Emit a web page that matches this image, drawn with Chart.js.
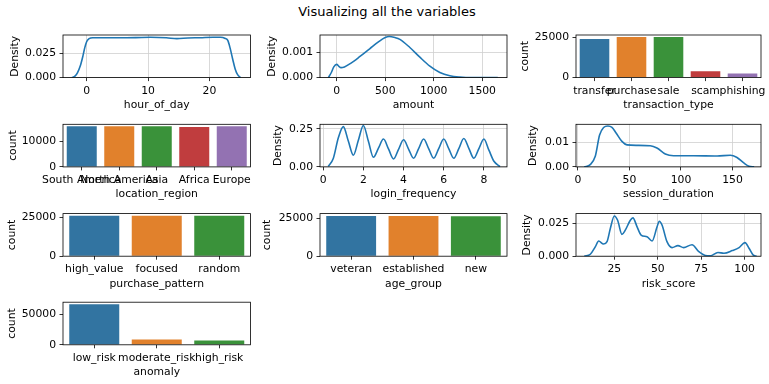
<!DOCTYPE html>
<html>
<head>
<meta charset="utf-8">
<script src="https://cdn.jsdelivr.net/npm/chart.js@4.4.0/dist/chart.umd.min.js"></script>
<style>
  html, body { margin: 0; padding: 0; background: #fff; }
  #fig { position: relative; width: 769px; height: 384px; overflow: hidden; font-family: 'DejaVu Sans', sans-serif; }
  #title { position: absolute; left: 0; top: 4px; width: 774px; text-align: center; font-size: 13px; line-height: 16px; color: #000; }
  #fig canvas { position: absolute; }
</style>
</head>
<body>
<div id="fig">
  <div id="title">Visualizing all the variables</div>
</div>
<script>
// ---- data ----

// hour_of_day density
const hourX = [-2.4, -1.9, -1.5, -1.0, -0.6, -0.3, 0, 0.4, 1, 3, 6, 8, 10.4, 13, 14.7, 16.5, 18.5, 20.6, 21.8, 22.5, 23.0, 23.4, 23.8, 24.2, 24.6, 25.1];
const hourY = [0, 0.0015, 0.005, 0.0128, 0.0225, 0.031, 0.0371, 0.0403, 0.0413, 0.0412, 0.0413, 0.0414, 0.0417, 0.0412, 0.0403, 0.041, 0.0413, 0.0418, 0.0417, 0.0408, 0.0385, 0.03, 0.019, 0.009, 0.003, 0];
const hourXTicks = [0, 10, 20];
const hourYTicks = ['0.000', '0.025'];

// amount density
const amountX = [-86, -55, -30, 0, 20, 45, 80, 140, 240, 340, 430, 500, 540, 600, 651, 754, 857, 960, 1063, 1166, 1268, 1400, 1660];
const amountY = [0, 0.0002, 0.00042, 0.00052, 0.00045, 0.00039, 0.00042, 0.00055, 0.00083, 0.00113, 0.0014, 0.00157, 0.00161, 0.00157, 0.0015, 0.00118, 0.0008, 0.00045, 0.0002, 0.00007, 0.00002, 0, 0];
const amountXTicks = [0, 500, 1000, 1500];
const amountYTicks = ['0.000', '0.001'];

// transaction_type counts
const transCats = ['transfer', 'purchase', 'sale', 'scam', 'phishing'];
const transCounts = [23900, 25200, 25150, 4000, 2600];
const transYTicks = ['0', '25000'];

// location_region counts
const regionCats = ['South America', 'North America', 'Asia', 'Africa', 'Europe'];
const regionCounts = [15750, 15800, 15750, 15450, 15800];
const regionYTicks = ['0', '10000'];

// login_frequency density
const loginX = [0.25, 0.5, 0.75, 1, 1.25, 1.5, 1.75, 2, 2.25, 2.5, 2.75, 3, 3.25, 3.5, 3.75, 4, 4.25, 4.5, 4.75, 5, 5.25, 5.5, 5.75, 6, 6.25, 6.5, 6.75, 7, 7.25, 7.5, 7.75, 8, 8.25, 8.5, 8.8];
const loginY = [0.003, 0.055, 0.19, 0.265, 0.17, 0.077, 0.175, 0.272, 0.168, 0.063, 0.123, 0.183, 0.118, 0.052, 0.115, 0.178, 0.117, 0.057, 0.12, 0.183, 0.12, 0.057, 0.12, 0.183, 0.12, 0.057, 0.12, 0.187, 0.122, 0.057, 0.12, 0.183, 0.11, 0.037, 0.002];
const loginXTicks = [0, 2, 4, 6, 8];
const loginYTicks = ['0.00', '0.25'];

// session_duration density
const sessionX = [6.1, 11.9, 16.8, 21, 24.9, 29.1, 33, 37.2, 42.7, 47.6, 57.3, 70.2, 76.7, 84.8, 92.8, 112, 135, 148, 154, 161, 166, 171];
const sessionY = [0, 0.0009, 0.0043, 0.0129, 0.0159, 0.01653, 0.016, 0.0136, 0.0103, 0.0089, 0.0087, 0.00853, 0.0076, 0.0052, 0.00453, 0.00453, 0.0044, 0.0047, 0.0039, 0.0016, 0.0003, 0];
const sessionXTicks = [0, 50, 100, 150];
const sessionYTicks = ['0.00', '0.01'];

// purchase_pattern counts
const patternCats = ['high_value', 'focused', 'random'];
const patternCounts = [26250, 26300, 26200];

// age_group counts
const ageCats = ['veteran', 'established', 'new'];
const ageCounts = [26300, 26250, 26200];

// risk_score density
const riskX = [7.7, 11.2, 14.1, 16.0, 18.8, 20.8, 22.7, 25.0, 26.9, 29.4, 31.3, 34.2, 35.7, 38.1, 40.4, 43.8, 46.7, 49.6, 50.9, 52.5, 55.3, 58.2, 61.6, 64.9, 69.7, 73.6, 77.4, 80.3, 84.6, 88.1, 92.9, 96.8, 100.2, 102.5, 104.8, 106.9];
const riskY = [0, 0.0015, 0.0073, 0.0116, 0.0093, 0.0111, 0.0212, 0.0308, 0.0275, 0.0167, 0.0199, 0.0275, 0.0293, 0.0225, 0.0162, 0.0149, 0.0116, 0.0225, 0.0268, 0.0237, 0.0111, 0.0066, 0.0081, 0.0066, 0.0088, 0.0035, 0.0005, 0.0003, 0.0028, 0.0023, 0.0043, 0.0066, 0.0104, 0.0061, 0.001, 0];
const riskXTicks = [25, 50, 75, 100];
const riskYTicks = ['0.000', '0.025'];

// anomaly counts
const anomalyCats = ['low_risk', 'moderate_risk', 'high_risk'];
const anomalyCounts = [66300, 8700, 7100];
const anomalyYTicks = ['0', '50000'];

const countYTicks25k = ['0', '25000'];

// ---- look ----
Chart.defaults.font.family = "'DejaVu Sans', sans-serif";
Chart.defaults.font.size = 10.8;
Chart.defaults.color = '#000';
Chart.defaults.animation = false;

const LINE = '#1f77b4';
const PALETTE = ['#3274a1', '#e1812c', '#3a923a', '#c03d3e', '#9372b2'];

// subplot grid (axes boxes, in page pixels)
const colLeft = [63, 320, 576];
const colWidth = [187.5, 187, 185];
const rowTop = [35, 124.3, 213.6, 302.2];
const AX_H = 42.6;
const YW = 60, PT = 12, PR = 14, XH = 35;

// draws the four spines like matplotlib
const framePlugin = {
  id: 'frame',
  afterDraw(chart) {
    const { ctx, chartArea: a } = chart;
    ctx.save();
    ctx.strokeStyle = '#000';
    ctx.lineWidth = 0.8;
    ctx.strokeRect(a.left, a.top, a.right - a.left, a.bottom - a.top);
    ctx.restore();
  }
};

const panels = [
  { kind: 'kde', row: 0, col: 0, xlabel: 'hour_of_day', ylabel: 'Density', xs: hourX, ys: hourY,
    xMin: -3.85, xMax: 26.7, xTicks: hourXTicks, yMax: 0.0441, yTicks: hourYTicks, yd: 48 },
  { kind: 'kde', row: 0, col: 1, xlabel: 'amount', ylabel: 'Density', xs: amountX, ys: amountY,
    xMin: -172, xMax: 1755, xTicks: amountXTicks, yMax: 0.00167, yTicks: amountYTicks, yd: 48.3 },
  { kind: 'bar', row: 0, col: 2, xlabel: 'transaction_type', cats: transCats, counts: transCounts,
    yMax: 26460, yTicks: transYTicks, yd: 51 },
  { kind: 'bar', row: 1, col: 0, xlabel: 'location_region', cats: regionCats, counts: regionCounts,
    yMax: 16540, yTicks: regionYTicks, yd: 50.3 },
  { kind: 'kde', row: 1, col: 1, xlabel: 'login_frequency', ylabel: 'Density', xs: loginX, ys: loginY,
    xMin: -0.16, xMax: 9.15, xTicks: loginXTicks, yMax: 0.28, yTicks: loginYTicks, yd: 41.7 },
  { kind: 'kde', row: 1, col: 2, xlabel: 'session_duration', ylabel: 'Density', xs: sessionX, ys: sessionY,
    xMin: -1.9, xMax: 177.7, xTicks: sessionXTicks, yMax: 0.0172, yTicks: sessionYTicks, yd: 42.7 },
  { kind: 'bar', row: 2, col: 0, xlabel: 'purchase_pattern', cats: patternCats, counts: patternCounts,
    yMax: 27650, yTicks: countYTicks25k, yd: 51.3 },
  { kind: 'bar', row: 2, col: 1, xlabel: 'age_group', cats: ageCats, counts: ageCounts,
    yMax: 27900, yTicks: countYTicks25k, yd: 52.5 },
  { kind: 'kde', row: 2, col: 2, xlabel: 'risk_score', ylabel: 'Density', xs: riskX, ys: riskY,
    xMin: 2.95, xMax: 109.4, xTicks: riskXTicks, yMax: 0.0326, yTicks: riskYTicks, yd: 49.3 },
  { kind: 'bar', row: 3, col: 0, xlabel: 'anomaly', cats: anomalyCats, counts: anomalyCounts,
    yMax: 69600, yTicks: anomalyYTicks, yd: 51.3 }
];

function tickValue(label) { return parseFloat(label); }

function makePanel(p) {
  const axL = colLeft[p.col], axT = rowTop[p.row], axW = colWidth[p.col];
  const cLeft = axL - YW;
  const cTop = Math.floor(axT) - PT;
  const padTop = axT - cTop;
  const cW = Math.ceil(YW + axW + PR);
  const padRight = cW - (YW + axW);
  const cH = Math.ceil(padTop + AX_H + XH);
  const padBottom = cH - (padTop + AX_H + XH);

  const canvas = document.createElement('canvas');
  canvas.width = cW; canvas.height = cH;
  canvas.style.left = cLeft + 'px';
  canvas.style.top = cTop + 'px';
  canvas.style.width = cW + 'px';
  canvas.style.height = cH + 'px';
  document.getElementById('fig').appendChild(canvas);

  const isKde = p.kind === 'kde';
  const lineH = 10.8 * 1.2;
  const gridCommon = {
    lineWidth: 0.8, color: '#cfcfcf',
    drawOnChartArea: isKde, drawTicks: true,
    tickLength: 3.5, tickColor: '#000', tickWidth: 0.8
  };
  const yTickVals = p.yTicks.map(tickValue);

  const yScale = {
    type: 'linear', min: 0, max: p.yMax,
    border: { display: false },
    grid: gridCommon,
    afterBuildTicks: s => { s.ticks = yTickVals.map(v => ({ value: v })); },
    ticks: { padding: 3.5, callback: (v, i) => p.yTicks[i] },
    title: { display: true, text: p.ylabel || 'count', padding: { top: YW - lineH / 2 - p.yd, bottom: 0 } },
    afterFit: s => { s.width = YW; }
  };
  const xTitle = { display: true, text: p.xlabel, padding: { top: 0, bottom: XH - lineH / 2 - 27.7 } };

  let config;
  if (isKde) {
    config = {
      type: 'line',
      data: { datasets: [{
        data: p.xs.map((x, i) => ({ x: x, y: p.ys[i] })),
        borderColor: LINE, borderWidth: 1.6, pointRadius: 0,
        cubicInterpolationMode: 'monotone', fill: false
      }] },
      options: {
        scales: {
          x: {
            type: 'linear', min: p.xMin, max: p.xMax,
            border: { display: false },
            grid: gridCommon,
            afterBuildTicks: s => { s.ticks = p.xTicks.map(v => ({ value: v })); },
            ticks: { padding: 3.5, maxRotation: 0, autoSkip: false, callback: v => String(v) },
            title: xTitle,
            afterFit: s => { s.height = XH; }
          },
          y: yScale
        }
      }
    };
  } else {
    config = {
      type: 'bar',
      data: { labels: p.cats, datasets: [{
        data: p.counts,
        backgroundColor: PALETTE.slice(0, p.cats.length),
        borderWidth: 0, barPercentage: 0.8, categoryPercentage: 1
      }] },
      options: {
        scales: {
          x: {
            type: 'category', offset: true,
            border: { display: false },
            grid: Object.assign({}, gridCommon, { offset: false }),
            ticks: { padding: 3.5, maxRotation: 0, minRotation: 0, autoSkip: false },
            title: xTitle,
            afterFit: s => { s.height = XH; }
          },
          y: yScale
        }
      }
    };
  }
  config.options.responsive = false;
  config.options.maintainAspectRatio = false;
  config.options.events = [];
  config.options.layout = { padding: { top: padTop, right: padRight, bottom: padBottom, left: 0 } };
  config.options.plugins = { legend: { display: false }, tooltip: { enabled: false } };
  config.plugins = [framePlugin];
  new Chart(canvas.getContext('2d'), config);
}

panels.forEach(makePanel);
</script>
</body>
</html>
